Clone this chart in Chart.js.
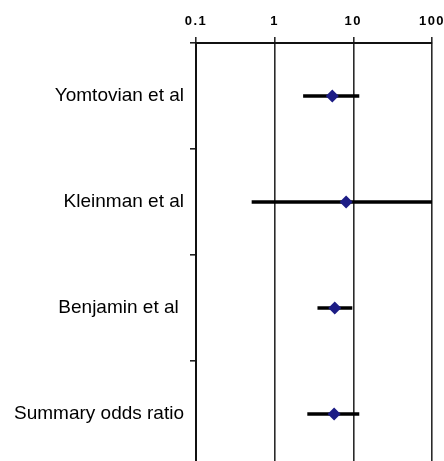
<!DOCTYPE html>
<html>
<head>
<meta charset="utf-8">
<script src="https://cdn.jsdelivr.net/npm/chart.js@4/dist/chart.umd.min.js"></script>
<style>
  html, body { margin: 0; padding: 0; background: #fff; overflow: hidden; }
  #wrap { width: 444px; height: 467px; }
</style>
</head>
<body>
<div id="wrap"><canvas id="forest" width="444" height="467"></canvas></div>
<script>
// Studies (rows, top to bottom)
const studies = ['Yomtovian et al', 'Kleinman et al', 'Benjamin et al ', 'Summary odds ratio'];
// Odds ratio point estimates
const oddsRatio = [5.4, 8.1, 5.8, 5.7];
// 95% confidence interval bounds
const ciLow = [2.3, 0.51, 3.5, 2.6];
const ciHigh = [11.9, 100, 9.7, 11.9];
// Log-scale tick values and their labels on the top axis
const tickValues = [0.1, 1, 10, 100];
const tickLabels = ['0.1', '1', '10', '100'];

const datasets = [];
// Point estimates first so they are painted over the interval bars
datasets.push({
  label: 'Odds ratio',
  data: studies.map((s, i) => ({ x: oddsRatio[i], y: s })),
  pointStyle: 'rectRot',
  pointRadius: 6.5,
  backgroundColor: '#1c1c85',
  borderColor: '#1c1c85',
  borderWidth: 0,
  showLine: false
});
// One horizontal segment per confidence interval
studies.forEach((s, i) => {
  datasets.push({
    label: s + ' CI',
    data: [{ x: ciLow[i], y: s }, { x: ciHigh[i], y: s }],
    showLine: true,
    borderColor: '#000',
    borderWidth: 3.5,
    borderCapStyle: 'butt',
    pointRadius: 0,
    fill: false
  });
});

// Letter spacing for the top axis labels only (y labels are drawn in a later layer)
const spacing = {
  id: 'spacing',
  beforeDraw(chart) { chart.ctx.letterSpacing = '1.5px'; },
  beforeDatasetsDraw(chart) { chart.ctx.letterSpacing = '0px'; }
};

new Chart(document.getElementById('forest'), {
  type: 'scatter',
  data: { datasets },
  plugins: [spacing],
  options: {
    responsive: false,
    animation: false,
    events: [],
    devicePixelRatio: 1,
    layout: { autoPadding: false, padding: { top: 0, left: 0, right: 12, bottom: 0 } },
    plugins: { legend: { display: false }, tooltip: { enabled: false } },
    scales: {
      x: {
        type: 'logarithmic',
        position: 'top',
        min: 0.1,
        max: 100,
        afterBuildTicks: (scale) => { scale.ticks = tickValues.map(v => ({ value: v })); },
        afterFit: (scale) => {
          scale.height = 43;
          scale.paddingLeft = 0;
          scale.paddingRight = 0;
        },
        ticks: {
          callback: (value, index) => tickLabels[index],
          font: { family: '"Liberation Sans", Arial, sans-serif', size: 13, weight: 'bold' },
          color: '#000',
          padding: 8,
          maxRotation: 0,
          autoSkip: false
        },
        grid: {
          display: true,
          drawOnChartArea: true,
          drawTicks: true,
          tickLength: 6,
          color: '#2a2a2a',
          lineWidth: 1.6
        },
        border: { display: true, color: '#111', width: 2 }
      },
      y: {
        type: 'category',
        labels: studies,
        offset: true,
        afterFit: (scale) => {
          scale.width = 196;
          scale.paddingTop = 0;
          scale.paddingBottom = 0;
        },
        ticks: {
          font: { family: '"Liberation Sans", Arial, sans-serif', size: 19 },
          color: '#000',
          padding: 6,
          z: 1
        },
        grid: {
          offset: true,
          drawOnChartArea: false,
          drawTicks: true,
          tickLength: 6,
          color: '#222',
          lineWidth: 1.6
        },
        border: { display: true, color: '#111', width: 2 }
      }
    }
  }
});
</script>
</body>
</html>
